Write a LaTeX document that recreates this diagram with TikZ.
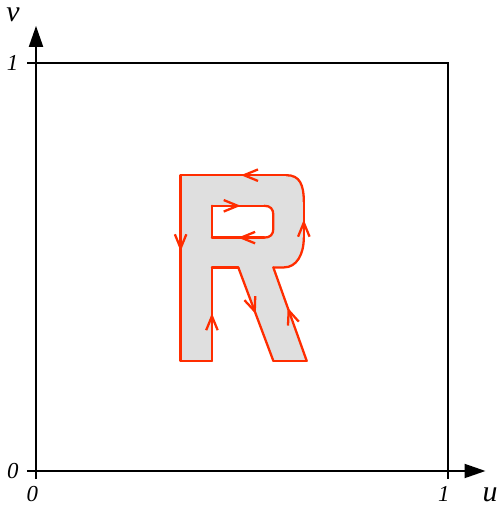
\documentclass[tikz,border=0pt]{standalone}
\usepackage{fontspec}
\setmainfont{Liberation Serif}
\usetikzlibrary{arrows.meta, decorations.markings}
\definecolor{curvered}{RGB}{255,45,0}

\begin{document}
\begin{tikzpicture}[
    x=8.24cm, y=8.16cm,
    axis/.style={line width=1.1pt, -{Triangle[length=4.2mm, width=2.8mm]}},
    frame/.style={line width=1.1pt},
    region/.style={fill=gray!25, even odd rule},
    edge/.style={curvered, line width=1.3pt, line join=round, line cap=round},
    flow/.style={postaction={decorate}, decoration={markings,
        mark=at position #1 with {\arrow{Straight Barb[length=2.8mm, width=2.3mm]}}}},
    lbl/.style={inner sep=0pt, font=\fontsize{13}{13}\selectfont\itshape},
    axlbl/.style={inner sep=0pt, font=\fontsize{17}{17}\selectfont\itshape}
  ]
    \useasboundingbox (-0.0874,-0.0858) rectangle (1.1262,1.1544);

    % Axes and unit square
    \coordinate (O) at (0,0);
    \coordinate (corner) at (1,1);
    \coordinate (u-end) at (1.091,0);
    \coordinate (v-end) at (0,1.091);
    \coordinate (u-one) at (1,0);
    \coordinate (v-one) at (0,1);
    \draw[frame] (O) rectangle (corner);
    \draw[axis] (-0.022,0) -- (u-end);
    \draw[axis] (0,-0.02) -- (v-end);
    \draw[frame] (u-one) -- ++(0,-0.02);
    \draw[frame] (v-one) -- ++(-0.022,0);

    % Labels on the axes
    \node[lbl] (one-v) at (-0.057,1) {1};
    \node[lbl] (zero-v) at (-0.056,0) {0};
    \node[lbl] (zero-u) at (-0.009,-0.056) {0};
    \node[lbl] (one-u) at (0.99,-0.057) {1};
    \node[axlbl] (u-lbl) at (1.102,-0.058) {u};
    \node[axlbl] (v-lbl) at (-0.056,1.118) {v};

    % Outer boundary of the R
    \coordinate (tl) at (0.351,0.725);
    \coordinate (bl) at (0.351,0.270);
    \coordinate (foot) at (0.427,0.270);
    \coordinate (leg) at (0.427,0.499);
    \coordinate (crotch) at (0.491,0.499);
    \coordinate (kb1) at (0.576,0.270);
    \coordinate (kb2) at (0.657,0.270);
    \coordinate (kt) at (0.576,0.499);
    \coordinate (bowl) at (0.602,0.499);
    \coordinate (rlow) at (0.650,0.572);
    \coordinate (rhigh) at (0.650,0.660);
    \coordinate (tr) at (0.608,0.725);

    % Inner boundary (hole)
    \coordinate (h1) at (0.427,0.650);
    \coordinate (h2) at (0.554,0.650);
    \coordinate (h3) at (0.576,0.628);
    \coordinate (h4) at (0.576,0.594);
    \coordinate (h5) at (0.554,0.572);
    \coordinate (h6) at (0.427,0.572);

    % Region
    \fill[region] (tl) -- (bl) -- (foot) -- (leg) -- (crotch) -- (kb1) -- (kb2) -- (kt) -- (bowl)
        .. controls (0.632,0.499) and (0.650,0.530) .. (rlow) -- (rhigh)
        .. controls (0.650,0.702) and (0.640,0.725) .. (tr) -- cycle
        (h1) -- (h2) .. controls (0.569,0.650) and (0.576,0.642) .. (h3) -- (h4)
        .. controls (0.576,0.580) and (0.569,0.572) .. (h5) -- (h6) -- cycle;

    % Oriented boundary
    \draw[edge, flow=0.41] (tl) -- (bl);
    \draw[edge] (bl) -- (foot);
    \draw[edge, flow=0.51] (foot) -- (leg);
    \draw[edge] (leg) -- (crotch);
    \draw[edge, flow=0.5] (crotch) -- (kb1);
    \draw[edge] (kb1) -- (kb2);
    \draw[edge, flow=0.57] (kb2) -- (kt);
    \draw[edge] (kt) -- (bowl) .. controls (0.632,0.499) and (0.650,0.530) .. (rlow);
    \draw[edge, flow=0.5] (rlow) -- (rhigh);
    \draw[edge] (rhigh) .. controls (0.650,0.702) and (0.640,0.725) .. (tr);
    \draw[edge, flow=0.43] (tr) -- (tl);

    \draw[edge, flow=0.55] (h1) -- (h2);
    \draw[edge] (h2) .. controls (0.569,0.650) and (0.576,0.642) .. (h3) -- (h4)
        .. controls (0.576,0.580) and (0.569,0.572) .. (h5);
    \draw[edge, flow=0.5] (h5) -- (h6);
    \draw[edge] (h6) -- (h1);

  \end{tikzpicture}
\end{document}
